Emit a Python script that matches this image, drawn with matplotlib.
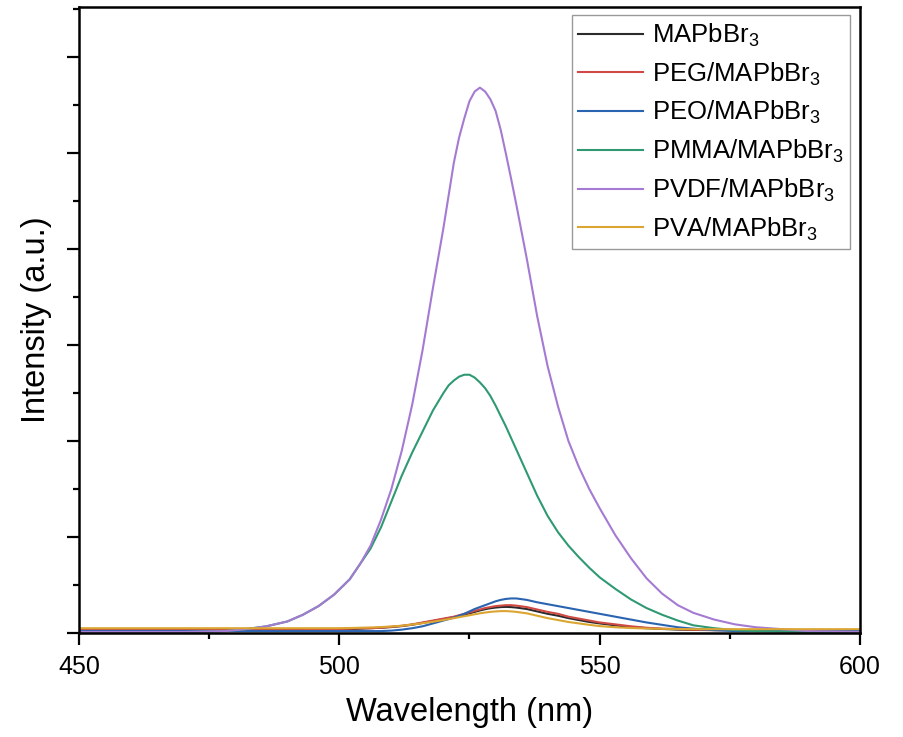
#!/usr/bin/env python3
import matplotlib
matplotlib.use('Agg')
import matplotlib.pyplot as plt
from matplotlib.ticker import MultipleLocator, NullFormatter

plt.rc('font', family='Liberation Sans')
plt.rc('mathtext', default='regular')

# wavelength grid (nm) shared by all spectra
wavelength = [450, 460, 470, 478, 482, 486, 490, 493, 496, 499, 502, 504, 506,
              508, 510, 512, 514, 516, 518, 520, 521, 522, 523, 524, 525, 526,
              527, 528, 529, 530, 531, 532, 533, 534, 536, 538, 540, 542, 544,
              546, 548, 550, 553, 556, 559, 562, 565, 568, 572, 576, 580, 585,
              590, 600]

# PL intensities (a.u.)
mapbbr3 = [0.03, 0.03, 0.03, 0.03, 0.03, 0.03, 0.03, 0.03, 0.032, 0.036, 0.04, 0.045, 0.05,
           0.055, 0.062, 0.072, 0.086, 0.105, 0.125, 0.145, 0.155, 0.165, 0.178, 0.19, 0.205, 0.22,
           0.235, 0.248, 0.258, 0.265, 0.27, 0.272, 0.27, 0.265, 0.25, 0.225, 0.2, 0.18, 0.155,
           0.135, 0.115, 0.1, 0.08, 0.062, 0.05, 0.042, 0.036, 0.032, 0.03, 0.03, 0.03, 0.03,
           0.03, 0.03]
peg = [0.03, 0.03, 0.03, 0.03, 0.03, 0.03, 0.03, 0.03, 0.035, 0.04, 0.045, 0.05, 0.05,
       0.055, 0.065, 0.075, 0.09, 0.11, 0.13, 0.15, 0.16, 0.17, 0.185, 0.2, 0.215, 0.23,
       0.245, 0.26, 0.27, 0.28, 0.285, 0.29, 0.29, 0.285, 0.27, 0.245, 0.22, 0.2, 0.17,
       0.15, 0.13, 0.11, 0.09, 0.07, 0.055, 0.045, 0.04, 0.035, 0.03, 0.03, 0.03, 0.03,
       0.03, 0.03]
peo = [0.02, 0.02, 0.02, 0.02, 0.02, 0.02, 0.02, 0.02, 0.02, 0.02, 0.02, 0.02, 0.02,
       0.02, 0.025, 0.035, 0.05, 0.07, 0.1, 0.13, 0.145, 0.16, 0.18, 0.2, 0.225, 0.25,
       0.27, 0.29, 0.31, 0.33, 0.345, 0.355, 0.36, 0.36, 0.345, 0.32, 0.3, 0.28, 0.26,
       0.24, 0.22, 0.2, 0.17, 0.14, 0.11, 0.085, 0.06, 0.045, 0.03, 0.02, 0.02, 0.02,
       0.02, 0.02]
pmma = [0.01, 0.01, 0.01, 0.02, 0.04, 0.07, 0.12, 0.19, 0.28, 0.4, 0.56, 0.72, 0.88,
        1.1, 1.37, 1.64, 1.88, 2.1, 2.32, 2.5, 2.58, 2.63, 2.67, 2.69, 2.69, 2.66,
        2.61, 2.55, 2.47, 2.37, 2.26, 2.15, 2.03, 1.91, 1.67, 1.43, 1.22, 1.05, 0.91,
        0.79, 0.68, 0.58, 0.46, 0.35, 0.26, 0.19, 0.13, 0.08, 0.05, 0.03, 0.02, 0.015,
        0.01, 0.01]
pvdf = [0.01, 0.01, 0.01, 0.02, 0.04, 0.07, 0.12, 0.19, 0.28, 0.4, 0.56, 0.72, 0.91,
        1.18, 1.5, 1.9, 2.38, 2.95, 3.6, 4.22, 4.56, 4.9, 5.16, 5.36, 5.54, 5.64,
        5.68, 5.64, 5.56, 5.44, 5.24, 4.99, 4.73, 4.46, 3.9, 3.3, 2.78, 2.36, 2.0,
        1.73, 1.5, 1.3, 1.02, 0.78, 0.57, 0.41, 0.29, 0.21, 0.14, 0.09, 0.06, 0.04,
        0.02, 0.01]
pva = [0.05, 0.05, 0.05, 0.05, 0.05, 0.05, 0.05, 0.05, 0.05, 0.05, 0.052, 0.055, 0.058,
       0.062, 0.068, 0.076, 0.088, 0.102, 0.118, 0.135, 0.145, 0.155, 0.165, 0.175, 0.185, 0.195,
       0.205, 0.213, 0.22, 0.225, 0.228, 0.228, 0.225, 0.22, 0.205, 0.18, 0.155, 0.135, 0.115,
       0.1, 0.085, 0.072, 0.06, 0.052, 0.047, 0.044, 0.042, 0.04, 0.04, 0.04, 0.04, 0.04,
       0.04, 0.04]

series = [
    (r'MAPbBr$_3$', mapbbr3, '#2b2b2b'),
    (r'PEG/MAPbBr$_3$', peg, '#cf4a45'),
    (r'PEO/MAPbBr$_3$', peo, '#2a64b0'),
    (r'PMMA/MAPbBr$_3$', pmma, '#2f9a72'),
    (r'PVDF/MAPbBr$_3$', pvdf, '#a57ad2'),
    (r'PVA/MAPbBr$_3$', pva, '#dba531'),
]


def plot_spectra():
    fig = plt.figure(figsize=(9.04, 7.37), dpi=100)
    ax = fig.add_axes([0.0874, 0.1411, 0.8639, 0.8494])

    for label, values, color in series:
        ax.plot(wavelength, values, color=color, lw=1.5, label=label)

    ax.set_xlim(450, 600)
    ax.set_ylim(0, 6.52)
    ax.xaxis.set_major_locator(MultipleLocator(50))
    ax.xaxis.set_minor_locator(MultipleLocator(25))
    ax.yaxis.set_major_locator(MultipleLocator(1))
    ax.yaxis.set_minor_locator(MultipleLocator(0.5))
    ax.yaxis.set_major_formatter(NullFormatter())

    for sp in ax.spines.values():
        sp.set_linewidth(1.8)
    ax.tick_params(which='major', direction='out', length=8.5, width=1.6,
                   labelsize=18, pad=7)
    ax.tick_params(which='minor', direction='out', length=4.5, width=1.6)

    ax.set_xlabel('Wavelength (nm)', fontsize=23.5, labelpad=13)
    ax.set_ylabel('Intensity (a.u.)', fontsize=23.5)
    ax.yaxis.set_label_coords(-0.034, 0.5)

    leg = ax.legend(loc='upper right', bbox_to_anchor=(0.987, 0.987),
                    borderaxespad=0, fontsize=18.5, fancybox=False,
                    edgecolor='#999999', framealpha=1, handlelength=2.5,
                    handletextpad=0.35, labelspacing=0.45, borderpad=0.25)
    leg.get_frame().set_linewidth(1.0)
    return fig


def main():
    fig = plot_spectra()
    fig.savefig('out.png', dpi=100)


if __name__ == '__main__':
    main()
